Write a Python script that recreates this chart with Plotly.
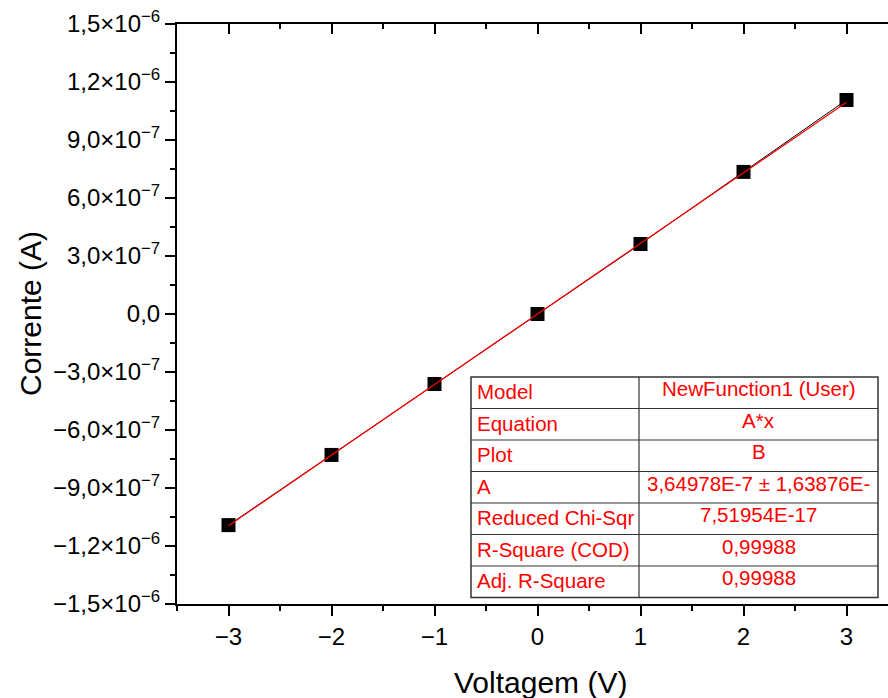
import plotly.graph_objects as go

voltage = [-3, -2, -1, 0, 1, 2, 3]
current = [-1.092e-6, -7.29e-7, -3.62e-7, 0.0, 3.62e-7, 7.35e-7, 1.107e-6]
fit_A = 3.64978e-7

ytick_vals = [-1.5e-6, -1.2e-6, -9e-7, -6e-7, -3e-7, 0, 3e-7, 6e-7, 9e-7, 1.2e-6, 1.5e-6]
ytick_text = ["−1,5×10<sup>−6</sup>", "−1,2×10<sup>−6</sup>", "−9,0×10<sup>−7</sup>",
              "−6,0×10<sup>−7</sup>", "−3,0×10<sup>−7</sup>", "0,0",
              "3,0×10<sup>−7</sup>", "6,0×10<sup>−7</sup>", "9,0×10<sup>−7</sup>",
              "1,2×10<sup>−6</sup>", "1,5×10<sup>−6</sup>"]
xtick_vals = [-3, -2, -1, 0, 1, 2, 3]
xtick_text = ["−3", "−2", "−1", "0", "1", "2", "3"]

table_labels = ["Model", "Equation", "Plot", "A", "Reduced Chi-Sqr", "R-Square (COD)", "Adj. R-Square"]
table_values = ["NewFunction1 (User)", "A*x", "B", "3,64978E-7 ± 1,63876E-",
                "7,51954E-17", "0,99988", "0,99988"]

x_title = "Voltagem (V)"
y_title = "Corrente (A)"

W, H = 888, 698
L, T, B = 177, 24, 604
R = W

fit_x = [voltage[0], voltage[-1]]
fit_y = [fit_A * v for v in fit_x]

fig = go.Figure()
fig.add_trace(go.Scatter(x=voltage, y=current, mode="lines+markers",
                         line=dict(color="black", width=1),
                         marker=dict(symbol="square", size=14, color="black"),
                         showlegend=False))
fig.add_trace(go.Scatter(x=fit_x, y=fit_y, mode="lines",
                         line=dict(color="red", width=1.2), showlegend=False))
# invisible trace so the top axis is drawn
fig.add_trace(go.Scatter(x=voltage, y=current, mode="markers", xaxis="x2",
                         marker=dict(opacity=0), hoverinfo="skip", showlegend=False))

font = "Liberation Sans, Arial, sans-serif"

fig.update_layout(
    width=W, height=H,
    margin=dict(l=L, r=W - R, t=T, b=H - B, autoexpand=False),
    paper_bgcolor="white", plot_bgcolor="white",
    font=dict(family=font, color="black", size=24),
    xaxis=dict(range=[-3.5, -3.5 + (R - L) / 103.0], tickvals=xtick_vals, ticktext=xtick_text,
               ticks="outside", ticklen=10, tickwidth=2, tickcolor="black",
               showline=True, linecolor="black", linewidth=2,
               showgrid=False, zeroline=False, automargin=False, ticklabeloverflow="allow",
               minor=dict(tick0=-3.5, dtick=0.5, ticks="outside", ticklen=5, tickwidth=2, tickcolor="black"),
               tickfont=dict(size=24, family=font, color="black")),
    xaxis2=dict(overlaying="x", side="top", matches="x", showticklabels=False,
                tickvals=xtick_vals, ticks="inside", ticklen=10, tickwidth=2, tickcolor="black",
                showline=True, linecolor="black", linewidth=2, showgrid=False, zeroline=False,
                automargin=False,
                minor=dict(tick0=-3.5, dtick=0.5, ticks="inside", ticklen=5, tickwidth=2, tickcolor="black")),
    yaxis=dict(range=[-1.5e-6, 1.5e-6], tickvals=ytick_vals, ticktext=ytick_text,
               ticks="outside", ticklen=10, tickwidth=2, tickcolor="black",
               showline=True, linecolor="black", linewidth=2,
               showgrid=False, zeroline=False, automargin=False, ticklabeloverflow="allow",
               minor=dict(tick0=-1.5e-6, dtick=1.5e-7, ticks="outside", ticklen=5, tickwidth=2, tickcolor="black"),
               tickfont=dict(size=24, family=font, color="black")),
)

def px_x(px):
    return (px - L) / (R - L)

def px_y(py):
    return (B - py) / (B - T)

tbl_left, tbl_mid, tbl_right = 471, 639, 878
tbl_top, row_h = 377, 31.5
n = len(table_labels)
tbl_bottom = tbl_top + n * row_h

shapes = [dict(type="rect", xref="paper", yref="paper",
               x0=px_x(tbl_left), x1=px_x(tbl_right), y0=px_y(tbl_bottom), y1=px_y(tbl_top),
               line=dict(color="#333333", width=1.5), fillcolor="white", layer="above")]
for i in range(1, n):
    yy = px_y(tbl_top + i * row_h)
    shapes.append(dict(type="line", xref="paper", yref="paper",
                       x0=px_x(tbl_left), x1=px_x(tbl_right), y0=yy, y1=yy,
                       line=dict(color="#333333", width=1.2), layer="above"))
shapes.append(dict(type="line", xref="paper", yref="paper",
                   x0=px_x(tbl_mid), x1=px_x(tbl_mid), y0=px_y(tbl_bottom), y1=px_y(tbl_top),
                   line=dict(color="#333333", width=1.2), layer="above"))

annotations = [
    dict(xref="paper", yref="paper", x=px_x(540), y=px_y(683), text=x_title, showarrow=False,
         xanchor="center", yanchor="middle", font=dict(size=30, family=font, color="black")),
    dict(xref="paper", yref="paper", x=px_x(30), y=px_y(314), text=y_title, showarrow=False,
         textangle=-90, xanchor="center", yanchor="middle", font=dict(size=30, family=font, color="black")),
]
for i, (lab, val) in enumerate(zip(table_labels, table_values)):
    yc = tbl_top + (i + 0.5) * row_h
    annotations.append(dict(xref="paper", yref="paper", x=px_x(tbl_left + 4), y=px_y(yc - 1),
                            text=lab, showarrow=False, xanchor="left", yanchor="middle",
                            font=dict(color="red", size=20.5, family=font)))
    annotations.append(dict(xref="paper", yref="paper", x=px_x((tbl_mid + tbl_right) / 2), y=px_y(yc - 4),
                            text=val, showarrow=False, xanchor="center", yanchor="middle",
                            font=dict(color="red", size=20.5, family=font)))

fig.update_layout(shapes=shapes, annotations=annotations)

fig.write_html("out.html", config={"displayModeBar": False},
               post_script="document.body.style.margin='0';document.body.style.overflow='hidden';")
